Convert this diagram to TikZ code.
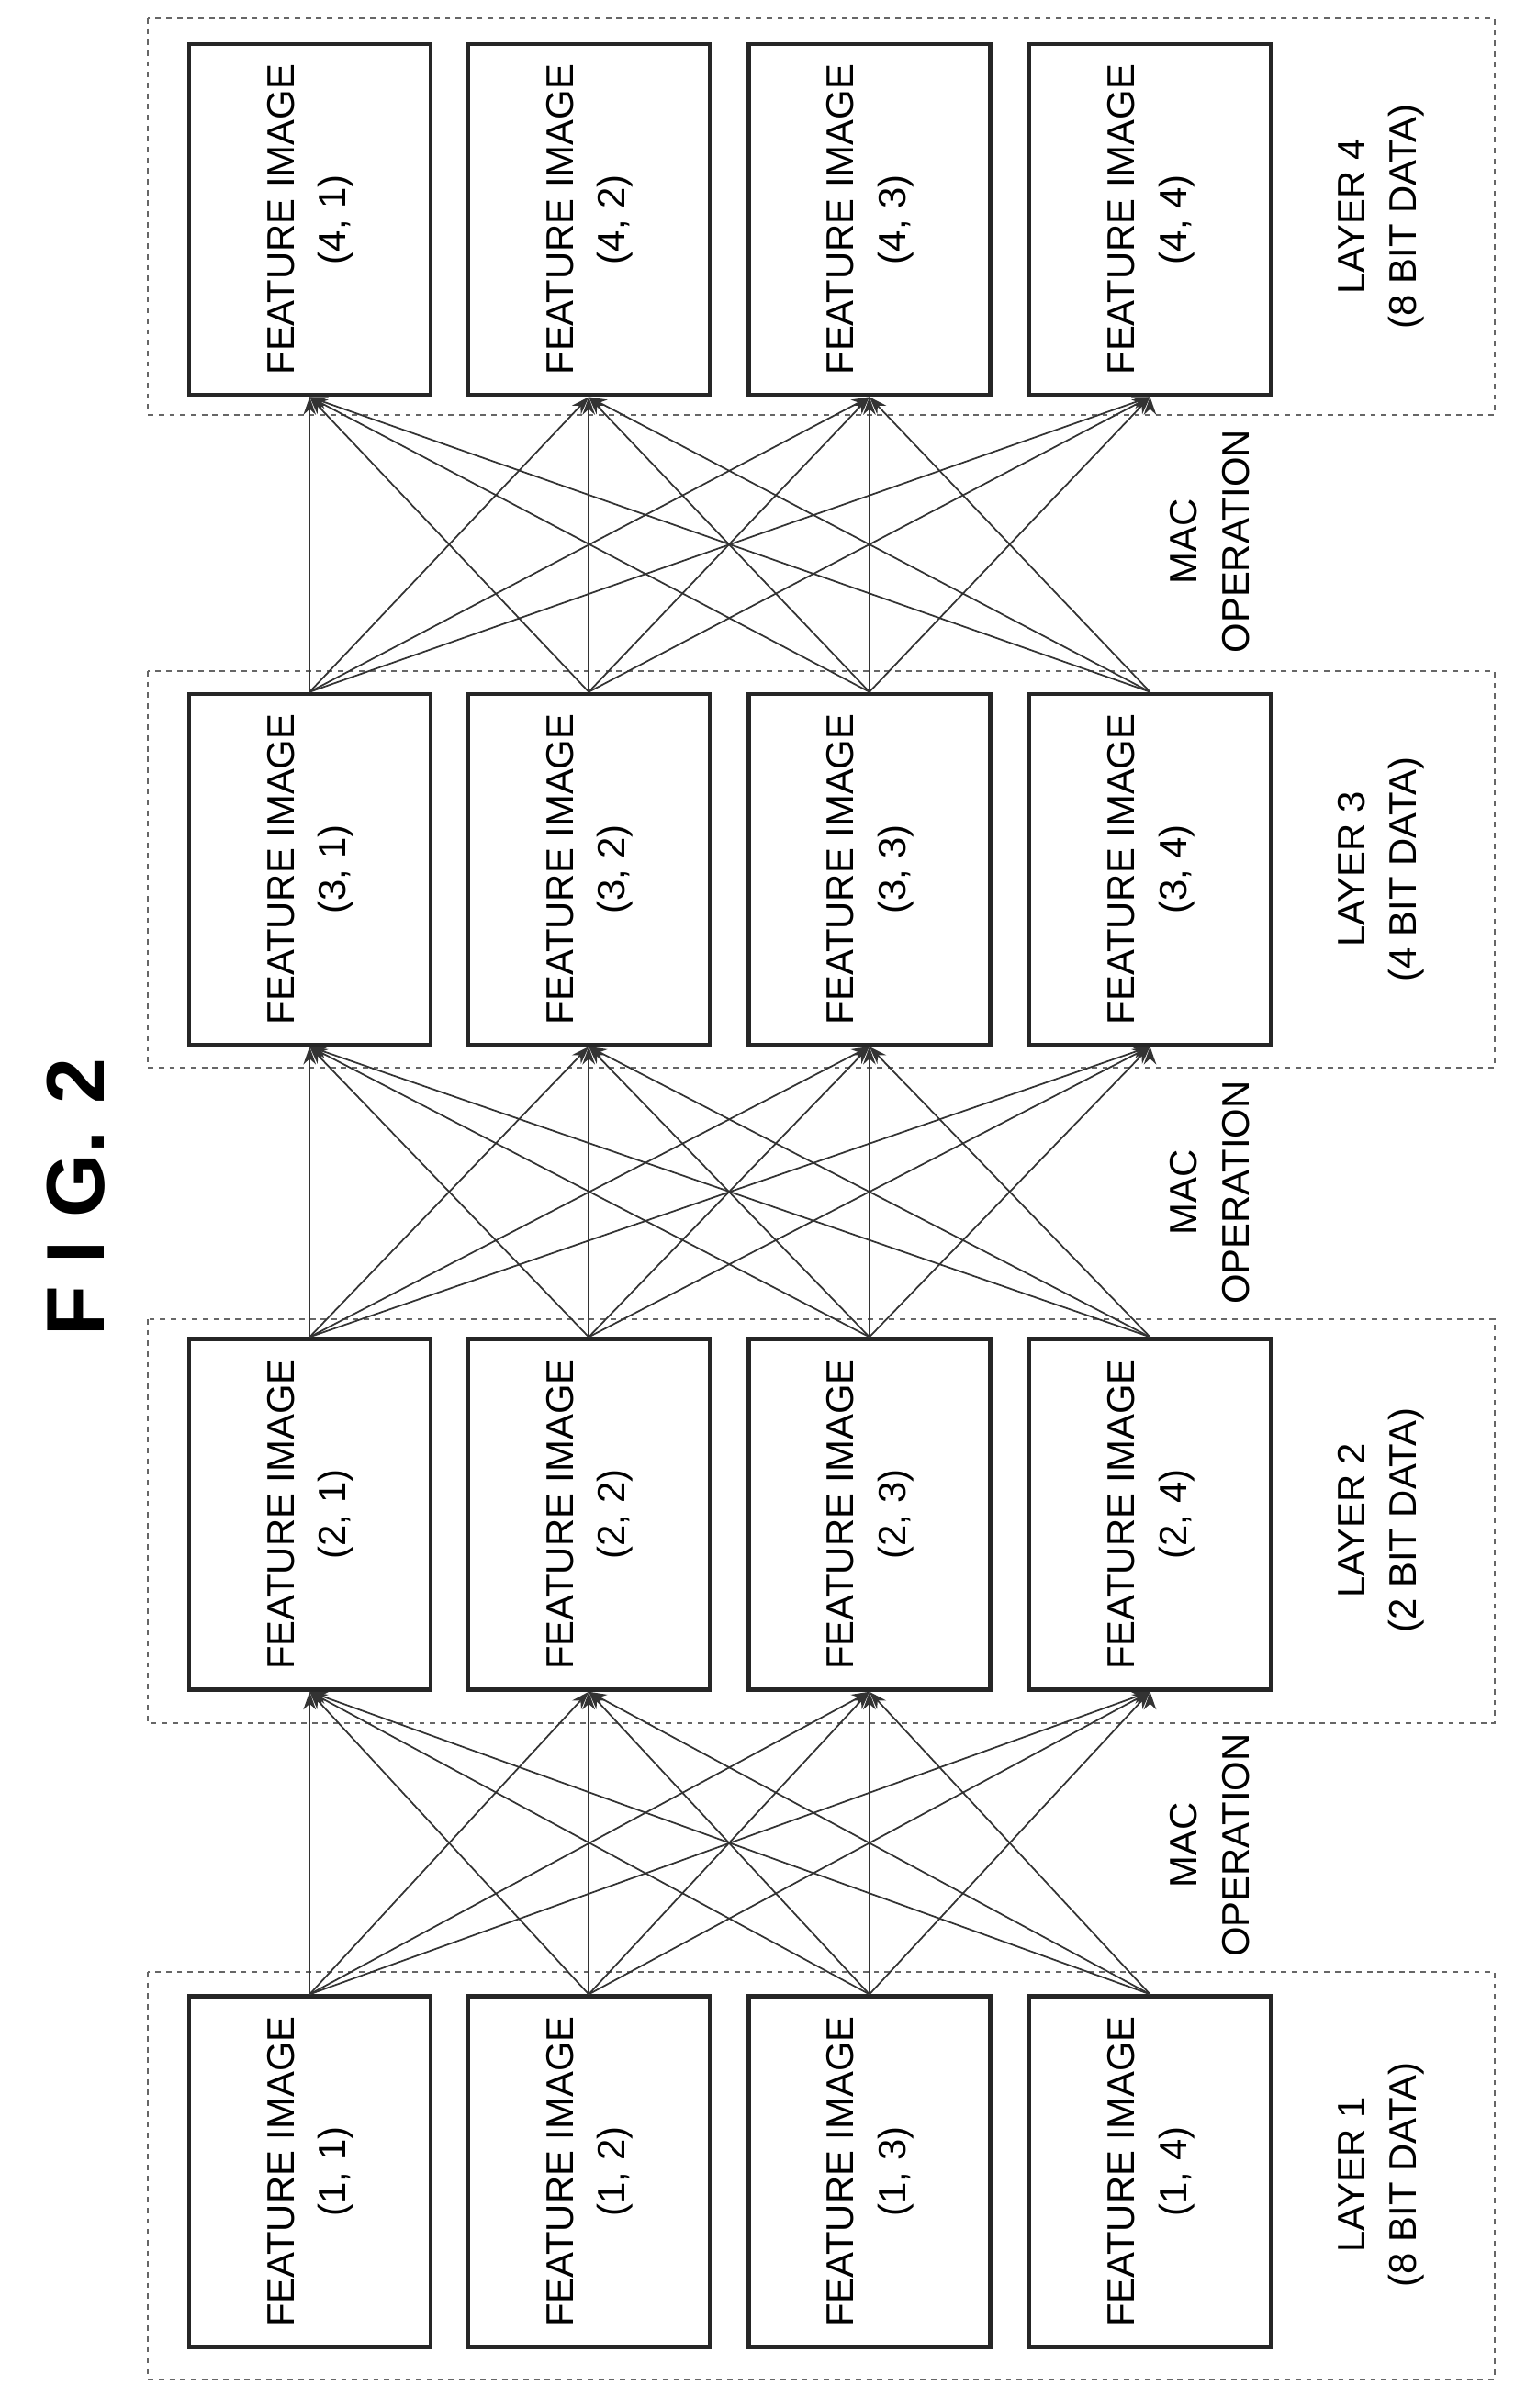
\documentclass[tikz,border=0pt]{standalone}
\usepackage{fontspec}
\usepackage{graphicx}
\setmainfont{Liberation Sans}
\usetikzlibrary{arrows.meta}
\begin{document}
\begin{tikzpicture}[x=0.03cm,y=-0.03cm,
  fbox/.style={draw=black!85,line width=2.2pt,minimum width=4.75cm,minimum height=6.9cm,inner sep=0pt,
    font=\fontsize{21.5}{29}\selectfont,align=center},
  layer/.style={draw=black!60,dashed,line width=0.8pt},
  lbl/.style={font=\fontsize{21.5}{29}\selectfont,align=center},
  conn/.style={draw=black!80,line width=0.9pt,-{Stealth[length=10pt,width=7pt]}}]
\useasboundingbox (0,0) rectangle (1000,1579);
\node[font=\bfseries\fontsize{46}{50}\selectfont] (title) at (50,785) {\rotatebox{90}{F I G.\,\,2}};
% layer frames
\draw[layer] (97,1293) rectangle (980,1560);
\draw[layer] (97,865) rectangle (980,1130);
\draw[layer] (97,440) rectangle (980,700);
\draw[layer] (97,12) rectangle (980,272);
\foreach \L/\Y in {1/1424,2/993,3/570,4/144}{
  \foreach \C/\X in {1/203,2/386,3/570,4/754}{
    \node[fbox] (b\L\C) at (\X,\Y) {\rotatebox{90}{\begin{tabular}{c}FEATURE IMAGE\\(\L, \C)\end{tabular}}};
  }
}
\node[lbl] (l1) at (905,1426) {\rotatebox{90}{\begin{tabular}{c}LAYER 1\\(8 BIT DATA)\end{tabular}}};
\node[lbl] (l2) at (905,997) {\rotatebox{90}{\begin{tabular}{c}LAYER 2\\(2 BIT DATA)\end{tabular}}};
\node[lbl] (l3) at (905,570) {\rotatebox{90}{\begin{tabular}{c}LAYER 3\\(4 BIT DATA)\end{tabular}}};
\node[lbl] (l4) at (905,142) {\rotatebox{90}{\begin{tabular}{c}LAYER 4\\(8 BIT DATA)\end{tabular}}};
\node[lbl] (m1) at (795,1210) {\rotatebox{90}{\begin{tabular}{c}MAC\\OPERATION\end{tabular}}};
\node[lbl] (m2) at (795,782) {\rotatebox{90}{\begin{tabular}{c}MAC\\OPERATION\end{tabular}}};
\node[lbl] (m3) at (795,355) {\rotatebox{90}{\begin{tabular}{c}MAC\\OPERATION\end{tabular}}};
\foreach \L/\N in {1/2,2/3,3/4}{
  \foreach \i in {1,...,4}{
    \foreach \j in {1,...,4}{
      \draw[conn] (b\L\i.north) -- (b\N\j.south);
    }
  }
}
\end{tikzpicture}
\end{document}
